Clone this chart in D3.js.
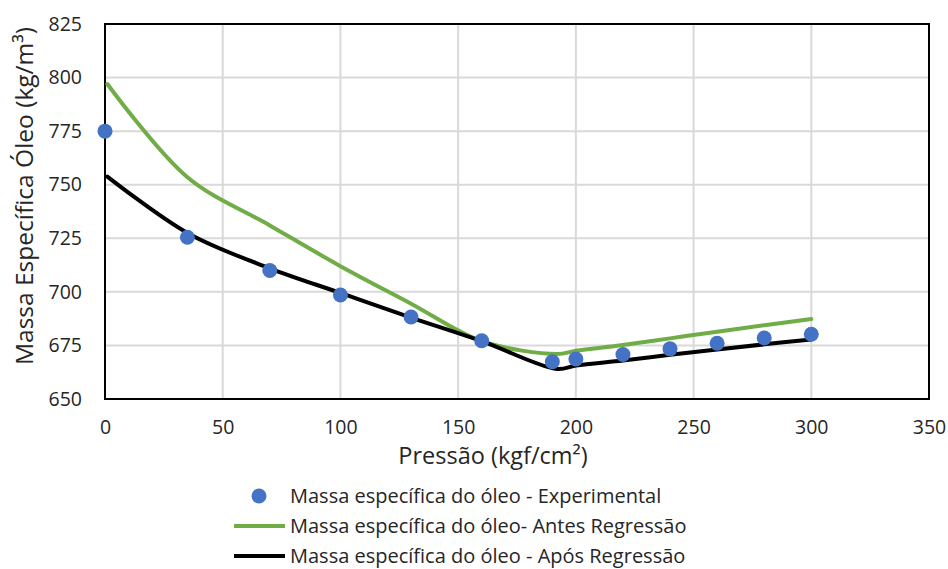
<!DOCTYPE html>
<html>
<head>
<meta charset="utf-8">
<script src="https://cdn.jsdelivr.net/npm/d3@7"></script>
<style>
  body { margin: 0; background: #fff; }
  text { font-family: "Open Sans", sans-serif; fill: #262626; }
</style>
</head>
<body>
<script>
// pontos experimentais
const expPressure = [0, 35, 70, 100, 130, 160, 190, 200, 220, 240, 260, 280, 300];
const expDensity = [775, 725.5, 710, 698.5, 688.3, 677.2, 667.4, 668.7, 670.8, 673.4, 676, 678.5, 680.2];

// curvas calculadas
const calcPressure = [1, 35, 70, 100, 130, 160, 192, 200, 220, 240, 260, 280, 300];
const antesDensity = [797, 753.5, 731, 712, 694.5, 677, 671, 672.5, 675.2, 678.3, 681.4, 684.4, 687.3];
const aposDensity = [753.8, 727.5, 711, 699.5, 688, 677, 664, 665.6, 668, 670.6, 673.1, 675.5, 677.8];

const xTicks = [0, 50, 100, 150, 200, 250, 300, 350];
const yTicks = [650, 675, 700, 725, 750, 775, 800, 825];

const legendLabels = [
  'Massa específica do óleo - Experimental',
  'Massa específica do óleo- Antes Regressão',
  'Massa específica do óleo - Após Regressão'
];

const chartWidth = 948;
const chartHeight = 569;
const margin = { top: 24, right: 19, bottom: 170, left: 105 };
const width = chartWidth - margin.left - margin.right;
const height = chartHeight - margin.top - margin.bottom;

const svg = d3.select('body').append('svg')
  .attr('width', chartWidth)
  .attr('height', chartHeight);

const g = svg.append('g')
  .attr('transform', 'translate(' + margin.left + ',' + margin.top + ')');

const scalaX = d3.scaleLinear().domain([0, 350]).range([0, width]);
const scalaY = d3.scaleLinear().domain([650, 825]).range([height, 0]);

// grade
g.append('g')
  .selectAll('line')
  .data(xTicks)
  .enter().append('line')
  .attr('x1', d => scalaX(d)).attr('x2', d => scalaX(d))
  .attr('y1', 0).attr('y2', height)
  .attr('stroke', '#d9d9d9').attr('stroke-width', 2);

g.append('g')
  .selectAll('line')
  .data(yTicks)
  .enter().append('line')
  .attr('x1', 0).attr('x2', width)
  .attr('y1', d => scalaY(d)).attr('y2', d => scalaY(d))
  .attr('stroke', '#d9d9d9').attr('stroke-width', 2);

// eixos
const xAxis = d3.axisBottom(scalaX).tickValues(xTicks).tickSize(0).tickPadding(35);
const yAxis = d3.axisLeft(scalaY).tickValues(yTicks).tickSize(0).tickPadding(23);

g.append('g')
  .attr('transform', 'translate(0,' + height + ')')
  .call(xAxis)
  .call(a => a.select('.domain').remove())
  .selectAll('text')
  .attr('dy', 0)
  .style('font-size', '19.5px')
  .style('font-family', '"Open Sans", sans-serif')
  .attr('fill', '#262626');

g.append('g')
  .call(yAxis)
  .call(a => a.select('.domain').remove())
  .selectAll('text')
  .style('font-size', '19.5px')
  .style('font-family', '"Open Sans", sans-serif')
  .attr('fill', '#262626');

// moldura
g.append('rect')
  .attr('x', 0).attr('y', 0)
  .attr('width', width).attr('height', height)
  .attr('fill', 'none')
  .attr('stroke', '#000').attr('stroke-width', 2);

// linhas
const line = (ys) => d3.line()
  .x((d, i) => scalaX(calcPressure[i]))
  .y(d => scalaY(d))
  .curve(d3.curveCatmullRom.alpha(0.5))(ys);

g.append('path')
  .attr('d', line(antesDensity))
  .attr('fill', 'none')
  .attr('stroke', '#70ad47')
  .attr('stroke-width', 4)
  .attr('stroke-linecap', 'round');

g.append('path')
  .attr('d', line(aposDensity))
  .attr('fill', 'none')
  .attr('stroke', '#000')
  .attr('stroke-width', 4)
  .attr('stroke-linecap', 'round');

g.append('g')
  .selectAll('circle')
  .data(expDensity)
  .enter().append('circle')
  .attr('cx', (d, i) => scalaX(expPressure[i]))
  .attr('cy', d => scalaY(d))
  .attr('r', 7.5)
  .attr('fill', '#4472c4');

// títulos
svg.append('text')
  .attr('x', 493)
  .attr('y', 464)
  .attr('text-anchor', 'middle')
  .style('font-size', '23.5px')
  .text('Pressão (kgf/cm²)');

svg.append('text')
  .attr('transform', 'translate(33,196) rotate(-90)')
  .attr('text-anchor', 'middle')
  .style('font-size', '24.5px')
  .text('Massa Específica Óleo (kg/m³)');

// legenda
const legend = svg.append('g').attr('transform', 'translate(0,496)');
const rowH = 30;

legend.append('circle')
  .attr('cx', 259).attr('cy', 0).attr('r', 7.5)
  .attr('fill', '#4472c4');
legend.append('line')
  .attr('x1', 234).attr('x2', 285)
  .attr('y1', rowH).attr('y2', rowH)
  .attr('stroke', '#70ad47').attr('stroke-width', 4);
legend.append('line')
  .attr('x1', 234).attr('x2', 285)
  .attr('y1', rowH * 2).attr('y2', rowH * 2)
  .attr('stroke', '#000').attr('stroke-width', 4);

legend.selectAll('text.leg')
  .data(legendLabels)
  .enter().append('text')
  .attr('class', 'leg')
  .attr('x', 290)
  .attr('y', (d, i) => i * rowH)
  .attr('dy', '0.35em')
  .style('font-size', '20px')
  .text(d => d);
</script>
</body>
</html>
